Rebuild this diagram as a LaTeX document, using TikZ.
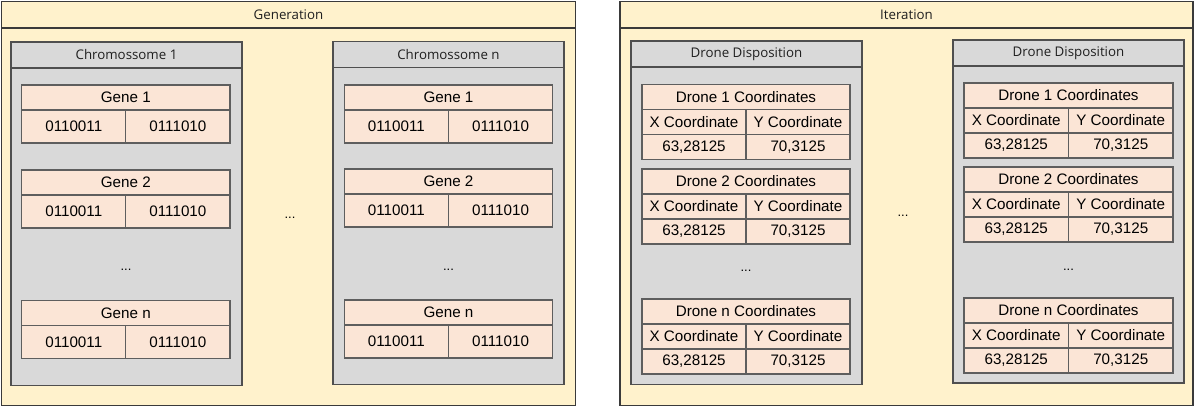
\documentclass[tikz,border=0pt]{standalone}
\usepackage{fontspec}
\setmainfont{Liberation Sans}
\newfontfamily\headfont{Open Sans}
\definecolor{panelfill}{HTML}{FFF2CC}
\definecolor{panelline}{HTML}{3A3A3A}
\definecolor{chromfill}{HTML}{D9D9D9}
\definecolor{chromline}{HTML}{4F4F4F}
\definecolor{cellfill}{HTML}{FBE5D6}
\definecolor{cellline}{HTML}{5E5E5E}
\definecolor{headtext}{HTML}{1F1F1F}

\tikzset{
  box/.style={draw, anchor=north west, inner sep=0pt, outer sep=0pt},
  panelbox/.style={box, draw=panelline, fill=panelfill, line width=1.3pt},
  chrombox/.style={box, draw=chromline, fill=chromfill, line width=1.2pt},
  headtxt/.style={font=\headfont\fontsize{13.3}{16}\selectfont, text=headtext},
  cell/.style={box, draw=cellline, fill=cellfill, line width=1.1pt,
    font=\fontsize{15.2}{18}\selectfont},
  dots/.style={font=\fontsize{13}{15}\selectfont, inner sep=0pt},
}

% outer frame with its title bar: name, x, y, width, height, title
\newcommand\drawpanel[6]{%
  \node[panelbox, minimum width=#4pt, minimum height=#5pt] (#1) at (#2,#3) {};
  \node[panelbox, headtxt, minimum width=#4pt, minimum height=26.5pt] (#1t) at (#2,#3) {#6};
}
% grey container with its header: name, x, y, width, height, title
\newcommand\drawgroup[6]{%
  \node[chrombox, minimum width=#4pt, minimum height=#5pt] (#1) at (#2,#3) {};
  \node[chrombox, headtxt, minimum width=#4pt, minimum height=26pt] (#1t) at (#2,#3) {#6};
}
% gene table: name, x, y, width, title
\newcommand\genetab[5]{%
  \node[cell, minimum width=#4pt, minimum height=25pt] (#1h) at (#2,#3) {#5};
  \node[cell, minimum width=#4pt/2, minimum height=33pt] (#1a) at (#1h.south west) {0110011};
  \node[cell, minimum width=#4pt/2, minimum height=33pt] (#1b) at (#1h.south) {0111010};
}
% drone coordinate table: name, x, y, width, title
\newcommand\dronetab[5]{%
  \node[cell, minimum width=#4pt, minimum height=25pt] (#1h) at (#2,#3) {#5};
  \node[cell, minimum width=#4pt/2, minimum height=25pt] (#1xa) at (#1h.south west) {X Coordinate};
  \node[cell, minimum width=#4pt/2, minimum height=25pt] (#1ya) at (#1h.south) {Y Coordinate};
  \node[cell, minimum width=#4pt/2, minimum height=25pt] (#1xv) at (#1xa.south west) {63,28125};
  \node[cell, minimum width=#4pt/2, minimum height=25pt] (#1yv) at (#1ya.south west) {70,3125};
}

\begin{document}
\begin{tikzpicture}[x=1pt, y=-1pt]
  \useasboundingbox (0,0) rectangle (1195,407);

  % ---- Generation ----
  \drawpanel{gen}{1.5}{1.5}{574}{404}{Generation}

  \drawgroup{chA}{11}{42}{231}{343.5}{Chromossome 1}
  \genetab{gA1}{21.7}{85}{208.3}{Gene 1}
  \genetab{gA2}{21.7}{170}{208.3}{Gene 2}
  \node[dots] (dA) at (126,270) {...};
  \genetab{gAn}{21.7}{300.5}{208.3}{Gene n}

  \node[dots] (dGen) at (290,218) {...};

  \drawgroup{chN}{333}{41.5}{231}{343}{Chromossome n}
  \genetab{gN1}{344.3}{85}{208.4}{Gene 1}
  \genetab{gN2}{344.3}{169}{208.4}{Gene 2}
  \node[dots] (dN) at (448.5,270) {...};
  \genetab{gNn}{344.3}{300}{208.4}{Gene n}

  % ---- Iteration ----
  \drawpanel{itr}{620}{1.5}{573}{404}{Iteration}

  \drawgroup{dpA}{631}{41}{231}{343.5}{Drone Disposition}
  \dronetab{drA1}{642}{84.3}{208}{Drone 1 Coordinates}
  \dronetab{drA2}{642}{169}{208}{Drone 2 Coordinates}
  \node[dots] (dDA) at (746,271) {...};
  \dronetab{drAn}{642}{299}{208}{Drone n Coordinates}

  \node[dots] (dItr) at (903,216) {...};

  \drawgroup{dpB}{953}{40}{231}{343}{Drone Disposition}
  \dronetab{drB1}{964}{83}{209}{Drone 1 Coordinates}
  \dronetab{drB2}{964}{167}{209}{Drone 2 Coordinates}
  \node[dots] (dDB) at (1068.5,270) {...};
  \dronetab{drBn}{964}{298}{209}{Drone n Coordinates}
\end{tikzpicture}
\end{document}
